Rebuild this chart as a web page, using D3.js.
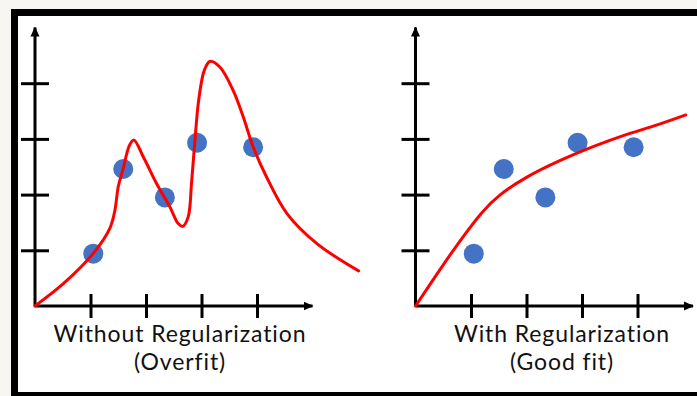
<!DOCTYPE html>
<html>
<head>
<meta charset="utf-8">
<script src="https://cdn.jsdelivr.net/npm/d3@7"></script>
<style>
  html, body { margin: 0; padding: 0; background: #f7f6f2; }
  svg { display: block; }
</style>
</head>
<body>
<svg id="chart" width="697" height="396"></svg>
<script>
// ---------------- data ----------------
const xTickValues = [1, 2, 3, 4];
const yTickValues = [1, 2, 3, 4];
const pointX = [1.05, 1.59, 2.34, 2.92, 3.93];
const pointY = [0.94, 2.46, 1.95, 2.93, 2.85];

const overfitX = [0, 0.51, 1.05, 1.35, 1.44, 1.50, 1.59, 1.70, 1.78, 1.95, 2.19, 2.43, 2.58, 2.66, 2.76, 2.82, 2.88, 2.95, 3.05, 3.15, 3.33, 3.57, 3.75, 3.93, 4.17, 4.54, 5.08, 5.83];
const overfitY = [0, 0.40, 0.945, 1.40, 1.72, 2.14, 2.47, 2.88, 2.98, 2.68, 2.20, 1.78, 1.48, 1.43, 1.60, 2.20, 2.95, 3.70, 4.23, 4.39, 4.29, 3.87, 3.40, 2.86, 2.32, 1.66, 1.12, 0.63];

const goodFitX = [0, 0.50, 0.90, 1.20, 1.52, 2.00, 2.60, 3.20, 3.81, 4.41, 4.87];
const goodFitY = [0, 0.74, 1.30, 1.68, 1.99, 2.31, 2.61, 2.86, 3.08, 3.27, 3.43];

const panelTitles = ["Without Regularization", "With Regularization"];
const panelSubtitles = ["(Overfit)", "(Good fit)"];

// ---------------- layout ----------------
const svg = d3.select("#chart");
const W = 697, H = 396;

// frame
svg.append("rect").attr("x", 11).attr("y", 9).attr("width", W + 10).attr("height", H + 10).attr("fill", "#000");
svg.append("rect").attr("x", 18).attr("y", 16).attr("width", W + 10).attr("height", 392 - 16).attr("fill", "#fff");

const defs = svg.append("defs");
defs.append("marker")
  .attr("id", "arrow")
  .attr("viewBox", "0 0 10 10")
  .attr("refX", 9).attr("refY", 5)
  .attr("markerUnits", "userSpaceOnUse")
  .attr("markerWidth", 10).attr("markerHeight", 10)
  .attr("orient", "auto")
  .append("path")
  .attr("d", "M0,0.5 L10,5 L0,9.5 Z")
  .attr("fill", "#000");

const yScale = d3.scaleLinear().domain([0, 5]).range([306, 27.5]);

const panels = [
  { x0: 35, x1: 312.5, title: panelTitles[0], sub: panelSubtitles[0], cx: 180, curveX: overfitX, curveY: overfitY, curve: d3.curveCatmullRom.alpha(0.5) },
  { x0: 415.5, x1: 693, title: panelTitles[1], sub: panelSubtitles[1], cx: 562, curveX: goodFitX, curveY: goodFitY, curve: d3.curveNatural }
];

panels.forEach(p => {
  const xScale = d3.scaleLinear().domain([0, 5]).range([p.x0, p.x1]);
  const g = svg.append("g");

  // x axis ticks (crossing)
  const xAxis = d3.axisBottom(xScale).tickValues(xTickValues).tickFormat("").tickSize(12).tickSizeOuter(0);
  const gx = g.append("g").attr("transform", `translate(0,${yScale(0)})`).call(xAxis);
  gx.select(".domain").remove();
  gx.selectAll(".tick line").attr("y1", -12).attr("y2", 12).attr("stroke", "#000").attr("stroke-width", 3);

  // y axis ticks (crossing)
  const yAxis = d3.axisLeft(yScale).tickValues(yTickValues).tickFormat("").tickSize(14).tickSizeOuter(0);
  const gy = g.append("g").attr("transform", `translate(${xScale(0)},0)`).call(yAxis);
  gy.select(".domain").remove();
  gy.selectAll(".tick line").attr("x1", -14).attr("x2", 14).attr("stroke", "#000").attr("stroke-width", 3);

  // axis lines with arrows
  g.append("line")
    .attr("x1", xScale(0)).attr("y1", yScale(0))
    .attr("x2", xScale(5)).attr("y2", yScale(0))
    .attr("stroke", "#000").attr("stroke-width", 3)
    .attr("marker-end", "url(#arrow)");
  g.append("line")
    .attr("x1", xScale(0)).attr("y1", yScale(0))
    .attr("x2", xScale(0)).attr("y2", yScale(5))
    .attr("stroke", "#000").attr("stroke-width", 3)
    .attr("marker-end", "url(#arrow)");

  // points
  g.selectAll("circle.pt")
    .data(d3.range(pointX.length))
    .join("circle")
    .attr("class", "pt")
    .attr("cx", i => xScale(pointX[i]))
    .attr("cy", i => yScale(pointY[i]))
    .attr("r", 10)
    .attr("fill", "#4472c4");

  // curve
  const line = d3.line()
    .x(i => xScale(p.curveX[i]))
    .y(i => yScale(p.curveY[i]))
    .curve(p.curve);
  g.append("path")
    .attr("d", line(d3.range(p.curveX.length)))
    .attr("fill", "none")
    .attr("stroke", "#ff0000")
    .attr("stroke-width", 3)
    .attr("stroke-linecap", "round")
    .attr("stroke-linejoin", "round");

  // labels
  g.append("text")
    .attr("x", p.cx).attr("y", 342)
    .attr("text-anchor", "middle")
    .attr("font-family", "Lato, 'Open Sans', sans-serif")
    .attr("font-size", 23)
    .attr("letter-spacing", 0.9)
    .attr("fill", "#111")
    .text(p.title);
  g.append("text")
    .attr("x", p.cx).attr("y", 370)
    .attr("text-anchor", "middle")
    .attr("font-family", "Lato, 'Open Sans', sans-serif")
    .attr("font-size", 23)
    .attr("letter-spacing", 0.9)
    .attr("fill", "#111")
    .text(p.sub);
});
</script>
</body>
</html>
